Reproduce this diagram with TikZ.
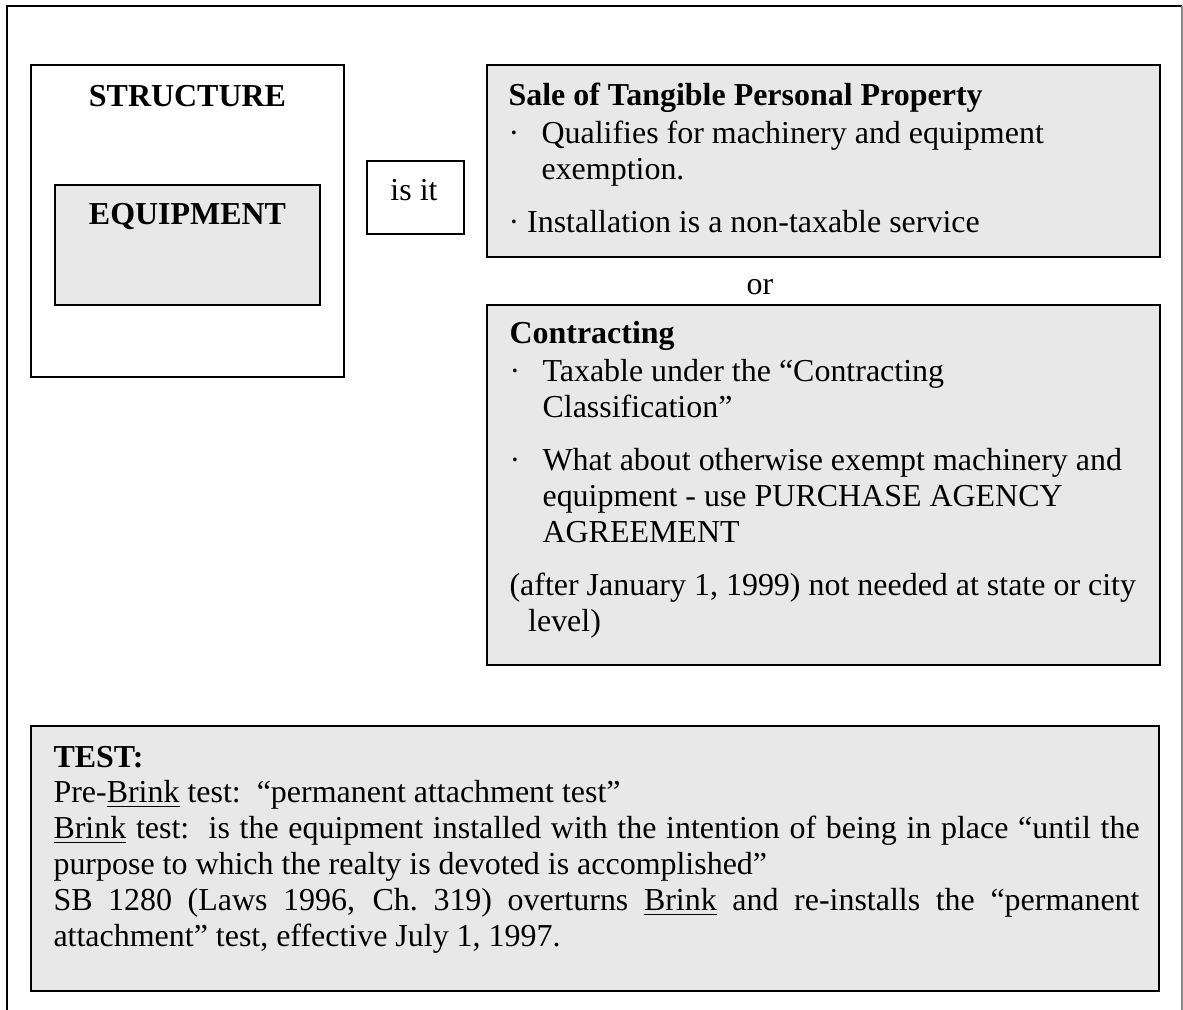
\documentclass[tikz,border=0pt]{standalone}
\usepackage{fontspec}
\setmainfont{Liberation Serif}
\usetikzlibrary{fit}

\definecolor{boxfill}{HTML}{E8E8E8}
\newcommand{\itemdot}{\makebox[12.4pt][l]{·}}
\newcommand{\itemgap}{\hspace*{12.4pt}}

\begin{document}
\begin{tikzpicture}[x=0.3755pt,y=-0.3755pt,
       plain box/.style={draw,line width=0.8pt,inner sep=0pt},
       shaded box/.style={plain box,fill=boxfill},
       box text/.style={inner sep=0pt,anchor=base west,font=\fontsize{12}{13.45}\selectfont},
       title text/.style={box text,anchor=base,font=\fontsize{12}{13.45}\selectfont\bfseries}]

      \useasboundingbox (0,0) rectangle (1183,1010);
      % page frame, open at the bottom
      \draw[line width=0.8pt] (7,1010) -- (7,6) -- (1182,6);
      \draw[black!45,line width=0.5pt] (1182,6) -- (1182,1010);

      \node[plain box,fit={(31,65) (344,377)}] (structure) {};
      \node[shaded box,fit={(55,185) (320,305)}] (equipment) {};
      \node[plain box,fit={(367,161) (464,234)}] (isitbox) {};
      \node[shaded box,fit={(487,65) (1160,257)}] (sale) {};
      \node[shaded box,fit={(487,305) (1160,665)}] (contracting) {};
      \node[shaded box,fit={(31,726) (1159,991)}] (test) {};

      \node[title text] at (187.5,107) (structuretitle) {STRUCTURE};
      \node[title text] at (187.5,225) (equipmenttitle) {EQUIPMENT};
      \node[box text,anchor=base] at (414,201) (isit) {is it};
      \node[box text,anchor=base] at (760,295) (or) {or};

      \node[box text] at (508,106) (saletext) {\parbox[t]{250pt}{%
        \textbf{Sale of Tangible Personal Property}\\[0.8pt]
        \itemdot Qualifies for machinery and equipment\\
        \itemgap exemption.\\[6.5pt]
        ·\ Installation is a non-taxable service}};

      \node[box text] at (509,344) (contractingtext) {\parbox[t]{250pt}{%
        \textbf{Contracting}\\[0.8pt]
        \itemdot Taxable under the “Contracting\\
        \itemgap Classification”\\[6.5pt]
        \itemdot What about otherwise exempt machinery and\\
        \itemgap equipment - use PURCHASE AGENCY\\
        \itemgap AGREEMENT\\[6.5pt]
        (after January 1, 1999) not needed at state or city\\
        \hspace*{7pt}level)}};

      \node[box text] at (53,767) (testtext) {\parbox[t]{407.8pt}{%
        \textbf{TEST:}\\
        Pre-\underline{Brink} test:\ \ “permanent attachment test”\\
        \underline{Brink} test:\ \ is the equipment installed with the intention of being in place “until the\linebreak
        purpose to which the realty is devoted is accomplished”\\
        SB 1280 (Laws 1996, Ch.\ 319) overturns \underline{Brink} and re-installs the “permanent\linebreak
        attachment” test, effective July 1, 1997.}};

    \end{tikzpicture}
\end{document}
